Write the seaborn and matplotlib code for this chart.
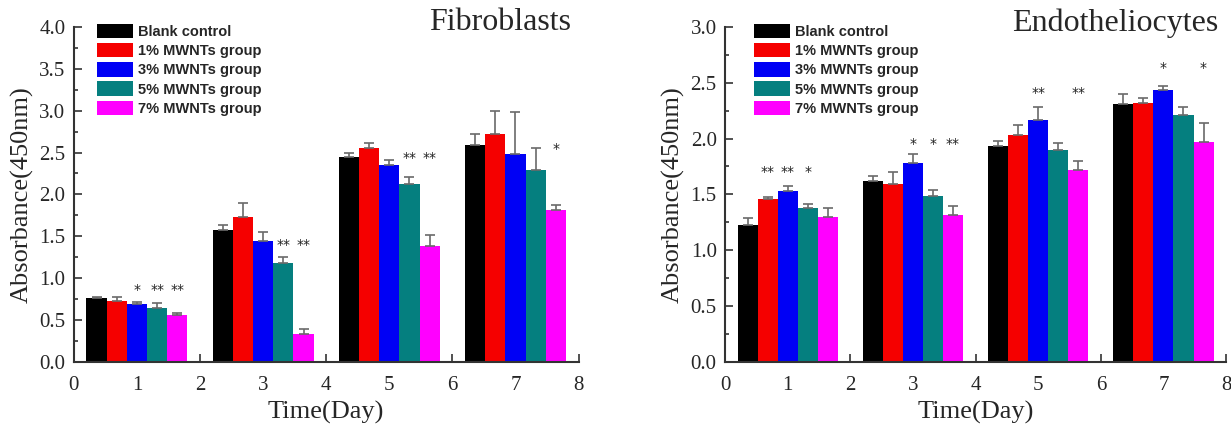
import numpy as np
import pandas as pd
import matplotlib
matplotlib.use('Agg')
import matplotlib.pyplot as plt
from matplotlib.patches import Patch
from matplotlib.ticker import MultipleLocator
import seaborn as sns

days = [1, 3, 5, 7]
groups = ['Blank control', '1% MWNTs group', '3% MWNTs group', '5% MWNTs group', '7% MWNTs group']
colors = ['#000000', '#f50000', '#0000f5', '#057f7f', '#ff00ff']

# Fibroblasts (one list per group, values for days 1,3,5,7)
fib_blank = [0.76, 1.58, 2.45, 2.59]
fib_1 = [0.73, 1.73, 2.55, 2.72]
fib_3 = [0.69, 1.44, 2.35, 2.48]
fib_5 = [0.64, 1.18, 2.13, 2.29]
fib_7 = [0.56, 0.34, 1.39, 1.82]
fib_err = [[0.02, 0.05, 0.04, 0.13],
           [0.05, 0.17, 0.06, 0.27],
           [0.03, 0.11, 0.06, 0.50],
           [0.06, 0.07, 0.08, 0.26],
           [0.02, 0.06, 0.13, 0.05]]
fib_sig = [['', '', '', ''],
           ['', '', '', ''],
           ['*', '', '', ''],
           ['**', '**', '**', ''],
           ['**', '**', '**', '*']]
fib_sig_y = [0.86, 1.40, 2.44, 2.54]

# Endotheliocytes
endo_blank = [1.23, 1.62, 1.93, 2.31]
endo_1 = [1.46, 1.59, 2.03, 2.32]
endo_3 = [1.53, 1.78, 2.17, 2.43]
endo_5 = [1.375, 1.49, 1.895, 2.21]
endo_7 = [1.30, 1.32, 1.72, 1.97]
endo_err = [[0.06, 0.045, 0.05, 0.09],
            [0.02, 0.11, 0.09, 0.045],
            [0.045, 0.08, 0.11, 0.04],
            [0.035, 0.05, 0.065, 0.075],
            [0.08, 0.075, 0.08, 0.17]]
endo_sig = [['', '', '', ''],
            ['**', '', '', ''],
            ['**', '*', '**', '*'],
            ['*', '*', '', ''],
            ['', '**', '**', '*']]
endo_sig_y = [1.70, 1.95, 2.41, 2.63]

serif = ['Liberation Serif', 'DejaVu Serif']
sns.set_style('white')
plt.rcParams['font.family'] = serif


def long_table(series):
    rows = []
    for g, vals in zip(groups, series):
        for d, v in zip(days, vals):
            rows.append({'day': d, 'group': g, 'value': v})
    return pd.DataFrame(rows)


def panel(ax, series, err, sig, sig_y, ymax, title, leg_x):
    df = long_table(series)
    sns.barplot(data=df, x='day', y='value', hue='group', hue_order=groups,
                palette=colors, native_scale=True, width=0.8, errorbar=None,
                saturation=1, legend=False, linewidth=0, ax=ax)
    bar_conts = list(ax.containers)
    for gi, cont in enumerate(bar_conts):
        xs = [p.get_x() + p.get_width() / 2 for p in cont.patches]
        hs = [p.get_height() for p in cont.patches]
        ax.errorbar(xs, hs, yerr=[np.zeros(len(hs)), err[gi]], fmt='none',
                    ecolor='#6a6a6a', elinewidth=1.2, capsize=3.5, capthick=1.2, zorder=3)
        for di, x in enumerate(xs):
            if sig[gi][di]:
                ax.text(x, sig_y[di], sig[gi][di], ha='center', va='center',
                        fontsize=10, family='DejaVu Sans', color='#222222')

    ax.set_xlim(0, 8)
    ax.set_ylim(0, ymax)
    ax.xaxis.set_minor_locator(MultipleLocator(0.5))
    ax.yaxis.set_minor_locator(MultipleLocator(0.25))
    ax.tick_params(which='both', direction='in', color='#333333', width=1.2,
                   labelsize=15, top=False, right=False, bottom=True, left=True)
    ax.tick_params(which='major', length=6, pad=6)
    ax.tick_params(axis='x', which='major', pad=10)
    ax.tick_params(which='minor', length=3)
    ax.set_xticks(range(9))
    ax.set_xticklabels([str(i) for i in range(9)])
    yt = np.arange(0, ymax + 0.01, 0.5)
    ax.set_yticks(yt)
    ax.set_yticklabels(['%.1f' % v for v in yt])
    for s in ['top', 'right']:
        ax.spines[s].set_visible(False)
    for s in ['left', 'bottom']:
        ax.spines[s].set_color('#333333')
        ax.spines[s].set_linewidth(1.5)
    ax.set_xlabel('Time(Day)', fontsize=19, labelpad=4)
    ax.set_ylabel('Absorbance(450nm)', fontsize=19, labelpad=4)
    ax.text(0.985, 1.055, title, transform=ax.transAxes, ha='right', va='top', fontsize=23)

    handles = [Patch(facecolor=c, edgecolor='none') for c in colors]
    ax.legend(handles, groups, loc='upper left', bbox_to_anchor=(leg_x, 1.008),
              frameon=False, borderpad=0, borderaxespad=0, handlelength=2.45,
              handleheight=1.12, handletextpad=0.35, labelspacing=0.28,
              prop={'family': 'Liberation Sans', 'weight': 'bold', 'size': 10.5})


fig = plt.figure(figsize=(12.31, 4.25), dpi=100)
ax1 = fig.add_axes([0.060, 0.148, 0.410, 0.789])
ax2 = fig.add_axes([0.589, 0.148, 0.407, 0.789])

panel(ax1, [fib_blank, fib_1, fib_3, fib_5, fib_7], fib_err, fib_sig, fib_sig_y, 4.0,
      'Fibroblasts', 0.046)
panel(ax2, [endo_blank, endo_1, endo_3, endo_5, endo_7], endo_err, endo_sig, endo_sig_y, 3.0,
      'Endotheliocytes', 0.058)

fig.savefig('out.png', dpi=100)
